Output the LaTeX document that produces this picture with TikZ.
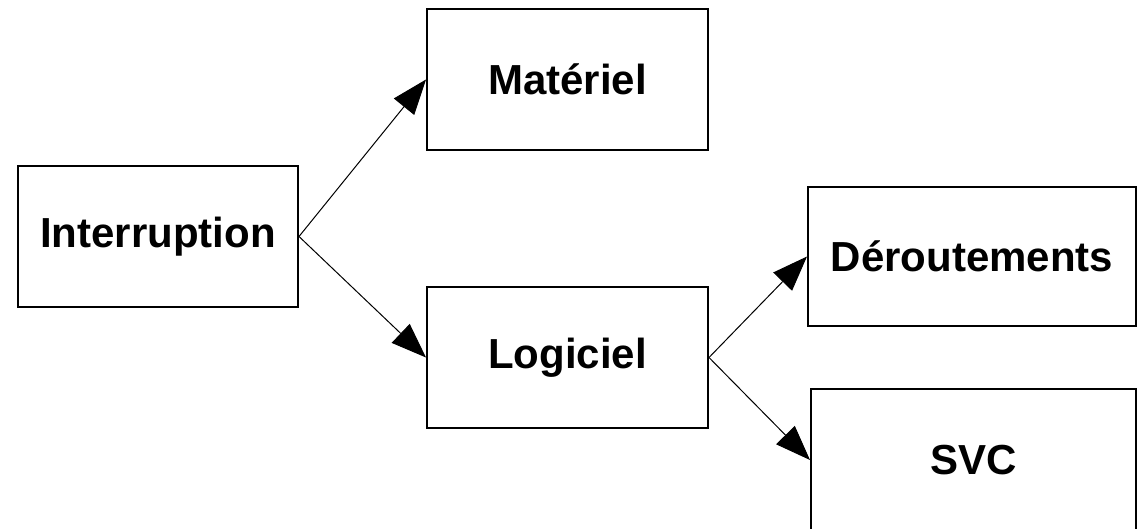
\documentclass[tikz,border=0pt]{standalone}
\usepackage{fontspec}
\setmainfont{Liberation Sans}
\usetikzlibrary{arrows.meta}
\begin{document}
\begin{tikzpicture}[x=1pt,y=-1pt,
  box/.style={draw=black, line width=2pt, fill=white, inner sep=0pt,
    font=\fontsize{42}{46}\selectfont\bfseries},
  link/.style={draw=black, line width=1pt,
    -{Triangle[length=35pt,width=26pt]}}]
  \useasboundingbox (0,0) rectangle (1143,528);
  \node[box, minimum width=280pt, minimum height=141pt] (intr) at (158,236.5) {Interruption};
  \node[box, minimum width=281pt, minimum height=141pt] (mat) at (567.5,79.5) {Matériel};
  \node[box, minimum width=281pt, minimum height=141pt] (log) at (567.5,357.5) {Logiciel};
  \node[box, minimum width=328pt, minimum height=139pt] (der) at (972,256.5) {Déroutements};
  \node[box, minimum width=325pt, minimum height=142pt] (svc) at (973.5,460) {SVC};
  \draw[link] (intr.east) -- (mat.west);
  \draw[link] (intr.east) -- (log.west);
  \draw[link] (log.east) -- (der.west);
  \draw[link] (log.east) -- (svc.west);
\end{tikzpicture}
\end{document}
